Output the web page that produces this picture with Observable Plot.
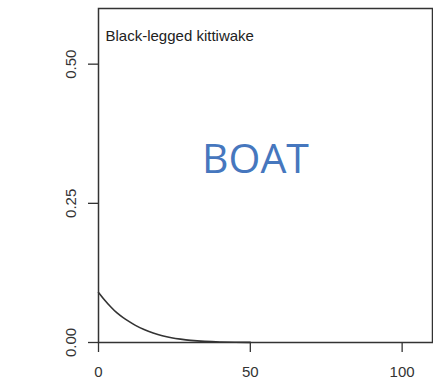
<!DOCTYPE html>
<html>
<head>
<meta charset="utf-8">
<script src="https://cdn.jsdelivr.net/npm/d3@7"></script>
<script src="https://cdn.jsdelivr.net/npm/@observablehq/plot@0.6"></script>
<style>
  html, body { margin: 0; padding: 0; background: #fff; }
  #chart svg { display: block; }
</style>
</head>
<body>
<div id="chart"></div>
<script>
// distance values and estimated curve values
const distance = [0, 2, 4, 6, 8, 10, 12, 15, 18, 21, 24, 27, 30, 35, 40, 45, 50];
const probability = [0.090, 0.076, 0.064, 0.053, 0.045, 0.038, 0.031, 0.023, 0.017, 0.012, 0.0085, 0.006, 0.0037, 0.0018, 0.0009, 0.0004, 0.0002];
const xTicks = [0, 50, 100];
const yTicks = [0, 0.25, 0.5];
const yTickLabels = ["0.00", "0.25", "0.50"];
const panelLabel = "Black-legged kittiwake";
const overlayLabel = "BOAT";

const curve = distance.map((d, i) => ({distance: d, p: probability[i]}));
const yLab = yTicks.map((v, i) => ({v, label: yTickLabels[i]}));

const chart = Plot.plot({
  width: 433,
  height: 386,
  marginLeft: 98,
  marginRight: 1,
  marginTop: 8,
  marginBottom: 44,
  style: {fontFamily: "'Liberation Sans', Arial, sans-serif", fontSize: "15px", color: "#333", background: "#fff"},
  x: {domain: [0, 110]},
  y: {domain: [0, 0.6]},
  marks: [
    Plot.axisX({ticks: xTicks, tickSize: 10, tickPadding: 14, tickFormat: d => String(d), label: null, stroke: "#333", strokeWidth: 1.3, fontSize: 15, fill: "#333"}),
    Plot.axisY({ticks: yTicks, tickSize: 10, tickFormat: () => "", label: null, stroke: "#333", strokeWidth: 1.3}),
    Plot.text(yLab, {x: 0, y: "v", text: "label", rotate: -90, dx: -27, textAnchor: "middle", lineAnchor: "middle", fontSize: 15, fill: "#333"}),
    Plot.line(curve, {x: "distance", y: "p", stroke: "#333", strokeWidth: 1.6, curve: "basis"}),
    Plot.frame({stroke: "#333", strokeWidth: 1.5}),
    Plot.text([panelLabel], {frameAnchor: "top-left", text: d => d, dx: 7, dy: 28, textAnchor: "start", lineAnchor: "middle", fontSize: 15, fill: "#222"}),
    Plot.text([overlayLabel], {frameAnchor: "top-left", text: d => d, dx: 157, dy: 151, textAnchor: "middle", lineAnchor: "middle", fontSize: 41, fill: "#4677BE", fontFamily: "'Open Sans', sans-serif"})
  ]
});
document.getElementById("chart").appendChild(chart);
</script>
</body>
</html>
